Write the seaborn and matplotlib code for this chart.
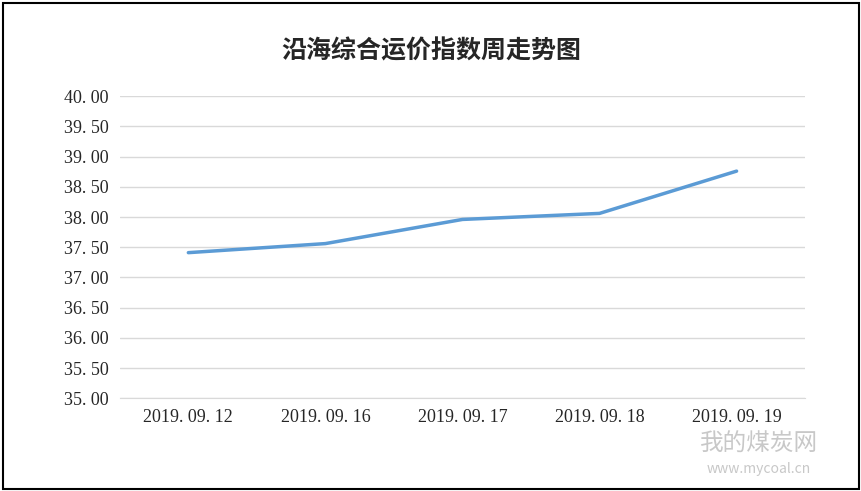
import matplotlib
matplotlib.use("Agg")
import matplotlib.pyplot as plt
import seaborn as sns
import pandas as pd
from matplotlib.patches import Rectangle

dates = ["2019.09.12", "2019.09.16", "2019.09.17", "2019.09.18", "2019.09.19"]
index_values = [37.41, 37.56, 37.96, 38.06, 38.76]
y_ticks = [35.0, 35.5, 36.0, 36.5, 37.0, 37.5, 38.0, 38.5, 39.0, 39.5, 40.0]

sns.set_style("white")
plt.rcParams["font.family"] = ["Noto Sans CJK SC", "DejaVu Sans"]

df = pd.DataFrame({"date": dates, "value": index_values})

fig = plt.figure(figsize=(8.62, 4.91), dpi=100)
ax = fig.add_axes([0.139, 0.189, 0.795, 0.615])
sns.lineplot(data=df, x="date", y="value", ax=ax, color="#5B9BD5", linewidth=2.5, sort=False)

ax.set_xlim(-0.5, len(dates) - 0.5)
ax.set_ylim(35, 40)
ax.set_yticks(y_ticks)
ax.set_yticklabels([f"{v:.2f}".replace(".", ". ") for v in y_ticks],
                   family="Liberation Serif", fontsize=13)
ax.set_xticks(range(len(dates)))
ax.set_xticklabels([d.replace(".", ". ") for d in dates], family="Liberation Serif", fontsize=13)
ax.tick_params(length=0, pad=8)
ax.grid(axis="y", color="#D9D9D9", linewidth=1)
for s in ["top", "right", "left"]:
    ax.spines[s].set_visible(False)
ax.spines["bottom"].set_color("#D9D9D9")
ax.set_xlabel("")
ax.set_ylabel("")

fig.text(0.5, 0.895, "沿海综合运价指数周走势图", ha="center", va="center", fontsize=18, weight="bold")
fig.text(0.88, 0.095, "我的煤炭网", ha="center", va="center", fontsize=17, color="#C8C8C8")
fig.text(0.88, 0.045, "www.mycoal.cn", ha="center", va="center", fontsize=10, color="#C8C8C8")
fig.patches.append(Rectangle((0.003, 0.004), 0.993, 0.99, transform=fig.transFigure,
                             fill=False, edgecolor="black", linewidth=1.5))

fig.savefig("out.png", dpi=100)
